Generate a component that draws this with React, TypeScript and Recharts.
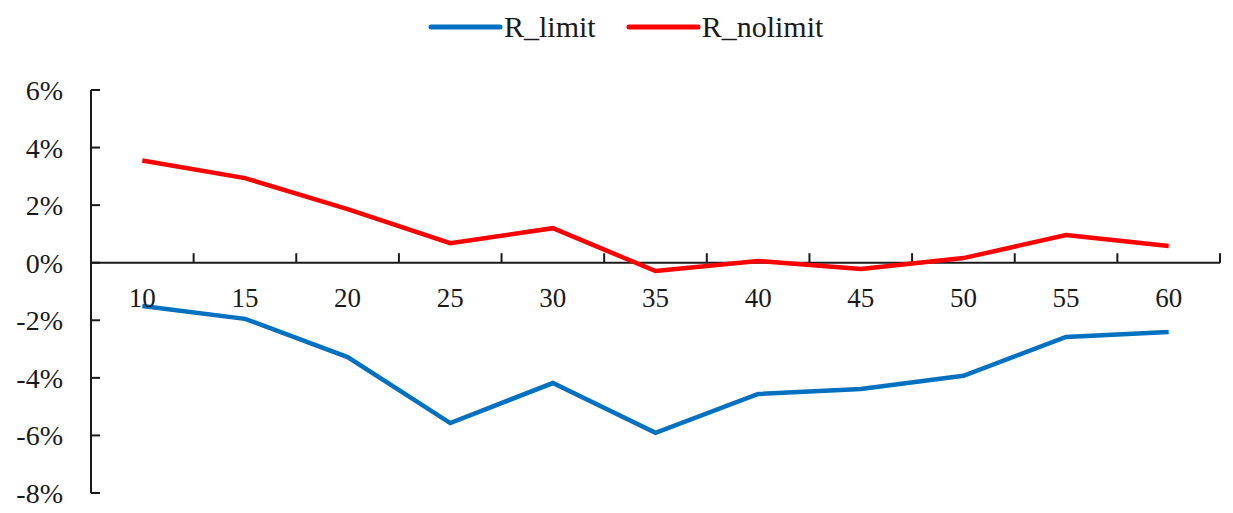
import React from "react"
import { LineChart, Line, XAxis, YAxis, ReferenceLine, ReferenceDot } from "recharts"

const periods = [10, 15, 20, 25, 30, 35, 40, 45, 50, 55, 60]
const rLimit = [-1.5, -1.95, -3.28, -5.57, -4.18, -5.91, -4.56, -4.39, -3.93, -2.58, -2.41]
const rNoLimit = [3.55, 2.94, 1.86, 0.68, 1.2, -0.29, 0.06, -0.22, 0.16, 0.96, 0.58]
const yTicks = [-8, -6, -4, -2, 0, 2, 4, 6]
// boundaries between the categories, where excel puts its tick marks
const xBounds = [12.5, 17.5, 22.5, 27.5, 32.5, 37.5, 42.5, 47.5, 52.5, 57.5, 62.5]

const FONT = "'Liberation Serif', 'Times New Roman', serif"
const TEXT = "#1a1a1a"

const data = periods.map((p, i) => ({ x: p, limit: rLimit[i], nolimit: rNoLimit[i] }))

const series = [
  { name: "R_limit", color: "#0070c0" },
  { name: "R_nolimit", color: "#ff0000" },
]

const LegendRow = () => (
  <div
    style={{
      position: "absolute",
      top: 10,
      left: 428,
      display: "flex",
      gap: 30,
      fontFamily: FONT,
      fontSize: 30,
      color: TEXT,
      lineHeight: "34px",
    }}
  >
    {series.map((s) => (
      <div key={s.name} style={{ display: "flex", alignItems: "center" }}>
        <svg width={76} height={10}>
          <line x1={3} y1={5} x2={72} y2={5} stroke={s.color} strokeWidth={5} strokeLinecap="round" />
        </svg>
        <span>{s.name}</span>
      </div>
    ))}
  </div>
)

export default function App() {
  return (
    <div style={{ position: "absolute", left: 0, top: 0, width: 1233, height: 513, background: "#fff" }}>
      <LegendRow />
      <LineChart width={1233} height={513} data={data} margin={{ top: 90, right: 13, bottom: 20, left: 0 }}>
        <XAxis dataKey="x" type="number" domain={[7.5, 62.5]} hide />
        <YAxis
          type="number"
          domain={[-8, 6]}
          ticks={yTicks}
          width={91}
          tickFormatter={(v) => `${v}%`}
          axisLine={{ stroke: TEXT, strokeWidth: 2 }}
          tickLine={{ stroke: TEXT, strokeWidth: 2 }}
          tickSize={-9}
          tickMargin={37}
          tick={{ fill: TEXT, fontSize: 28, fontFamily: FONT }}
        />
        <ReferenceLine y={0} stroke={TEXT} strokeWidth={2} />
        {xBounds.map((b) => (
          <ReferenceLine
            key={b}
            segment={[
              { x: b, y: 0 },
              { x: b, y: 0.33 },
            ]}
            stroke={TEXT}
            strokeWidth={2}
          />
        ))}
        {periods.map((p) => (
          <ReferenceDot
            key={p}
            x={p}
            y={0}
            r={0}
            fill="none"
            stroke="none"
            label={{ value: p, position: "bottom", offset: 25, fill: TEXT, fontSize: 27, fontFamily: FONT }}
          />
        ))}
        <Line
          dataKey="limit"
          name="R_limit"
          stroke="#0070c0"
          strokeWidth={4.5}
          dot={false}
          isAnimationActive={false}
        />
        <Line
          dataKey="nolimit"
          name="R_nolimit"
          stroke="#ff0000"
          strokeWidth={4.5}
          dot={false}
          isAnimationActive={false}
        />
      </LineChart>
    </div>
  )
}
